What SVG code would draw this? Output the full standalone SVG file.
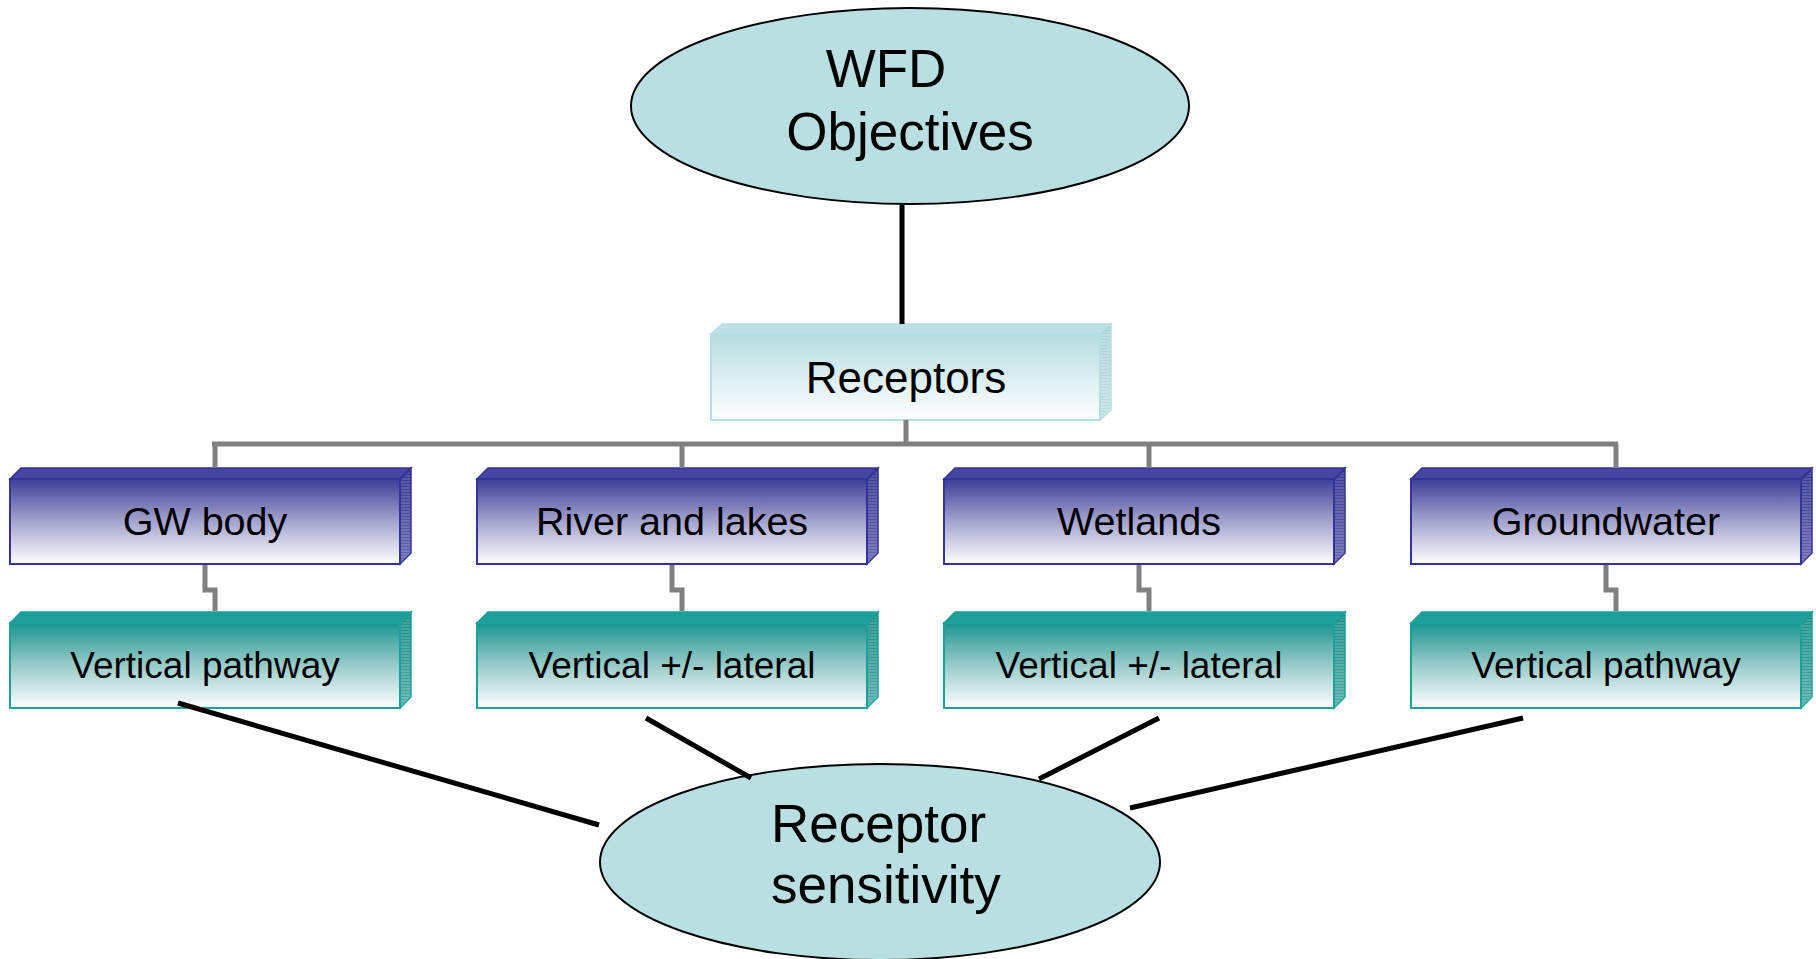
<svg xmlns="http://www.w3.org/2000/svg" width="1816" height="959" viewBox="0 0 1816 959">
<style>
text{font-family:"Liberation Sans",Arial,sans-serif;fill:#000;text-anchor:middle}
.big{font-size:53px}
.rec{font-size:44px}
.t1{font-size:39.5px}
.t2{font-size:37px}
.ell{fill:#b9dfe2;stroke:#000;stroke-width:2}
.gray{fill:none;stroke:#808080;stroke-width:5}
.blk{fill:none;stroke:#000;stroke-width:5}
.bfront{fill:url(#gBlue);stroke:#333399;stroke-width:2}
.btop{fill:#4646a2;stroke:#333399;stroke-width:1.5}
.bside{fill:url(#sBlue);stroke:#333399;stroke-width:1.5}
.tfront{fill:url(#gTeal);stroke:#17a39b;stroke-width:2}
.ttop{fill:#1f9e99;stroke:#17a39b;stroke-width:1.5}
.tside{fill:url(#sTeal);stroke:#17a39b;stroke-width:1.5}
.rfront{fill:url(#gRec);stroke:#b6dfe3;stroke-width:2}
.rtop{fill:#bde1e4;stroke:#b6dfe3;stroke-width:1.5}
.rside{fill:url(#sRec);stroke:#b6dfe3;stroke-width:1.5}
</style>
<defs>
<linearGradient id="gBlue" x1="0" y1="0" x2="0" y2="1">
<stop offset="0" stop-color="#3c3c98"/><stop offset="0.45" stop-color="#9a9ac8"/><stop offset="1" stop-color="#ffffff"/>
</linearGradient>
<linearGradient id="gTeal" x1="0" y1="0" x2="0" y2="1">
<stop offset="0" stop-color="#1a948f"/><stop offset="0.45" stop-color="#8ec6c3"/><stop offset="1" stop-color="#ffffff"/>
</linearGradient>
<linearGradient id="gRec" x1="0" y1="0" x2="0" y2="1">
<stop offset="0" stop-color="#b7dde1"/><stop offset="1" stop-color="#ffffff"/>
</linearGradient>
<pattern id="hBlue" width="4" height="3" patternUnits="userSpaceOnUse">
<rect width="4" height="3" fill="#3a3a96"/><rect y="1.5" width="4" height="1" fill="#9a9acc"/>
</pattern>
<pattern id="hTeal" width="4" height="3" patternUnits="userSpaceOnUse">
<rect width="4" height="3" fill="#1b8f8a"/><rect y="1.5" width="4" height="1" fill="#9cd0cc"/>
</pattern>
<pattern id="hRec" width="4" height="3" patternUnits="userSpaceOnUse">
<rect width="4" height="3" fill="#a9d3d7"/><rect y="1.5" width="4" height="1" fill="#e6f3f4"/>
</pattern>
<linearGradient id="sBlue" x1="0" y1="0" x2="0" y2="1">
<stop offset="0" stop-color="#35358f"/><stop offset="1" stop-color="#9a9acb"/>
</linearGradient>
<linearGradient id="sTeal" x1="0" y1="0" x2="0" y2="1">
<stop offset="0" stop-color="#188a85"/><stop offset="1" stop-color="#8fcac6"/>
</linearGradient>
<linearGradient id="sRec" x1="0" y1="0" x2="0" y2="1">
<stop offset="0" stop-color="#a7d2d6"/><stop offset="1" stop-color="#d9eef0"/>
</linearGradient>
</defs>

<g id="wfd">
<ellipse class="ell" cx="910" cy="106" rx="279" ry="98"/>
<text class="big" x="886" y="87">WFD</text>
<text class="big" x="910" y="150">Objectives</text>
</g>

<g id="receptors">
<polygon class="rtop" points="711,334 722,324 1111,324 1100,334"/>
<polygon class="rside" points="1100,334 1111,324 1111,410 1100,420"/>
<polygon points="1101,336 1110,327 1110,409 1101,418" fill="url(#hRec)" opacity="0.6"/>
<rect class="rfront" x="711" y="334" width="389" height="86"/>
<text class="rec" x="906" y="393">Receptors</text>
</g>

<g id="gwbody">
<polygon class="btop" points="10,479 21,468 411,468 400,479"/>
<polygon class="bside" points="400,479 411,468 411,553 400,564"/>
<polygon points="401,481 410,471 410,552 401,562" fill="url(#hBlue)" opacity="0.55"/>
<rect class="bfront" x="10" y="479" width="390" height="85"/>
<text class="t1" x="205" y="535">GW body</text>
</g>
<g id="riverlakes">
<polygon class="btop" points="477,479 488,468 878,468 867,479"/>
<polygon class="bside" points="867,479 878,468 878,553 867,564"/>
<polygon points="868,481 877,471 877,552 868,562" fill="url(#hBlue)" opacity="0.55"/>
<rect class="bfront" x="477" y="479" width="390" height="85"/>
<text class="t1" x="672" y="535">River and lakes</text>
</g>
<g id="wetlands">
<polygon class="btop" points="944,479 955,468 1345,468 1334,479"/>
<polygon class="bside" points="1334,479 1345,468 1345,553 1334,564"/>
<polygon points="1335,481 1344,471 1344,552 1335,562" fill="url(#hBlue)" opacity="0.55"/>
<rect class="bfront" x="944" y="479" width="390" height="85"/>
<text class="t1" x="1139" y="535">Wetlands</text>
</g>
<g id="groundwater">
<polygon class="btop" points="1411,479 1422,468 1812,468 1801,479"/>
<polygon class="bside" points="1801,479 1812,468 1812,553 1801,564"/>
<polygon points="1802,481 1811,471 1811,552 1802,562" fill="url(#hBlue)" opacity="0.55"/>
<rect class="bfront" x="1411" y="479" width="390" height="85"/>
<text class="t1" x="1606" y="535">Groundwater</text>
</g>

<g id="vp1">
<polygon class="ttop" points="10,623 21,612 411,612 400,623"/>
<polygon class="tside" points="400,623 411,612 411,697 400,708"/>
<polygon points="401,625 410,615 410,696 401,706" fill="url(#hTeal)" opacity="0.55"/>
<rect class="tfront" x="10" y="623" width="390" height="85"/>
<text class="t2" x="205" y="678">Vertical pathway</text>
</g>
<g id="vl1">
<polygon class="ttop" points="477,623 488,612 878,612 867,623"/>
<polygon class="tside" points="867,623 878,612 878,697 867,708"/>
<polygon points="868,625 877,615 877,696 868,706" fill="url(#hTeal)" opacity="0.55"/>
<rect class="tfront" x="477" y="623" width="390" height="85"/>
<text class="t2" x="672" y="678">Vertical +/- lateral</text>
</g>
<g id="vl2">
<polygon class="ttop" points="944,623 955,612 1345,612 1334,623"/>
<polygon class="tside" points="1334,623 1345,612 1345,697 1334,708"/>
<polygon points="1335,625 1344,615 1344,696 1335,706" fill="url(#hTeal)" opacity="0.55"/>
<rect class="tfront" x="944" y="623" width="390" height="85"/>
<text class="t2" x="1139" y="678">Vertical +/- lateral</text>
</g>
<g id="vp2">
<polygon class="ttop" points="1411,623 1422,612 1812,612 1801,623"/>
<polygon class="tside" points="1801,623 1812,612 1812,697 1801,708"/>
<polygon points="1802,625 1811,615 1811,696 1802,706" fill="url(#hTeal)" opacity="0.55"/>
<rect class="tfront" x="1411" y="623" width="390" height="85"/>
<text class="t2" x="1606" y="678">Vertical pathway</text>
</g>

<g id="sensitivity">
<ellipse class="ell" cx="880" cy="862" rx="280" ry="98"/>
<text class="big" x="771" y="842" style="text-anchor:start">Receptor</text>
<text class="big" x="771" y="903" style="text-anchor:start">sensitivity</text>
</g>

<g id="connectors">
<line class="blk" x1="902" y1="205" x2="902" y2="324"/>
<polyline class="gray" points="906,420 906,444"/>
<line class="gray" x1="212" y1="444" x2="1618" y2="444"/>
<line class="gray" x1="215" y1="444" x2="215" y2="468"/>
<line class="gray" x1="682" y1="444" x2="682" y2="468"/>
<line class="gray" x1="1149" y1="444" x2="1149" y2="468"/>
<line class="gray" x1="1616" y1="444" x2="1616" y2="468"/>
<polyline class="gray" points="205,565 205,590 215,590 215,611"/>
<polyline class="gray" points="672,565 672,590 682,590 682,611"/>
<polyline class="gray" points="1139,565 1139,590 1149,590 1149,611"/>
<polyline class="gray" points="1606,565 1606,590 1616,590 1616,611"/>
<line class="blk" x1="178" y1="703" x2="599" y2="825"/>
<line class="blk" x1="646" y1="718" x2="751" y2="778"/>
<line class="blk" x1="1159" y1="718" x2="1039" y2="779"/>
<line class="blk" x1="1523" y1="718" x2="1130" y2="808"/>
</g>
</svg>
